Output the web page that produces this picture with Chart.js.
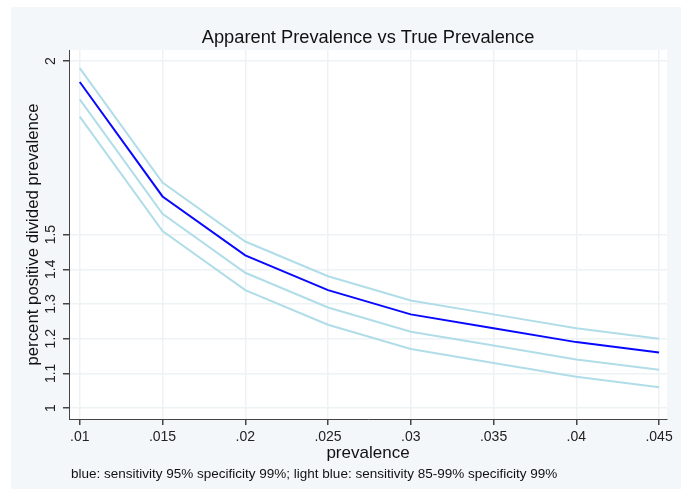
<!DOCTYPE html>
<html>
<head>
<meta charset="utf-8">
<script src="https://cdn.jsdelivr.net/npm/chart.js@4/dist/chart.umd.min.js"></script>
<style>
  html, body { margin: 0; padding: 0; background: #fff; }
  #wrap { width: 685px; height: 491px; }
</style>
</head>
<body>
<div id="wrap"><canvas id="chart" width="685" height="491"></canvas></div>
<script>
// values
const prevalence = [0.01, 0.015, 0.02, 0.025, 0.03, 0.035, 0.04, 0.045];
const blueSens95 = [1.94, 1.61, 1.44, 1.34, 1.27, 1.23, 1.19, 1.16];
const lightSens99 = [1.98, 1.65, 1.48, 1.38, 1.31, 1.27, 1.23, 1.20];
const lightSens90 = [1.89, 1.56, 1.39, 1.29, 1.22, 1.18, 1.14, 1.11];
const lightSens85 = [1.84, 1.51, 1.34, 1.24, 1.17, 1.13, 1.09, 1.06];
const xTicks = [0.01, 0.015, 0.02, 0.025, 0.03, 0.035, 0.04, 0.045];
const yTicks = [1, 1.1, 1.2, 1.3, 1.4, 1.5, 2];

const BLUE = '#0808ff';
const LIGHT = '#b0dde8';
const FONT = 'Arial, "Liberation Sans", sans-serif';

const pts = ys => prevalence.map((x, i) => ({ x: x, y: ys[i] }));
const fmt = v => String(v).replace(/^0/, '');

const lineSet = (label, ys, color) => ({
    label: label,
    data: pts(ys),
    borderColor: color,
    borderWidth: 2,
    pointRadius: 0,
    fill: false,
    tension: 0
});

// background panels and hand-placed texts
const decor = {
    id: 'decor',
    beforeDraw(chart) {
        const c = chart.ctx, a = chart.chartArea;
        c.save();
        c.fillStyle = '#f4f7f9';
        c.fillRect(11, 7, 670, 482);
        c.fillStyle = '#ffffff';
        c.fillRect(a.left, a.top, a.right - a.left, a.bottom - a.top);
        c.restore();
    },
    afterDraw(chart) {
        const c = chart.ctx, a = chart.chartArea;
        const ys = chart.scales.y;
        const mid = (a.left + a.right) / 2;
        c.save();
        c.fillStyle = '#111';
        c.textAlign = 'center';
        c.textBaseline = 'middle';
        c.font = '18.3px ' + FONT;
        c.fillText('Apparent Prevalence vs True Prevalence', mid, 38);
        c.font = '17px ' + FONT;
        c.fillText('prevalence', mid, 453);
        // y tick labels, rotated like the original
        c.font = '14px ' + FONT;
        c.fillStyle = '#222';
        yTicks.forEach(v => {
            c.save();
            c.translate(51, ys.getPixelForValue(v));
            c.rotate(-Math.PI / 2);
            c.fillText(fmt(v), 0, 0);
            c.restore();
        });
        c.fillStyle = '#111';
        c.font = '16.8px ' + FONT;
        c.save();
        c.translate(33, (a.top + a.bottom) / 2);
        c.rotate(-Math.PI / 2);
        c.fillText('percent positive divided prevalence', 0, 0);
        c.restore();
        c.textAlign = 'left';
        c.font = '13.5px ' + FONT;
        c.fillText('blue: sensitivity 95% specificity 99%; light blue: sensitivity 85-99% specificity 99%', 71, 474);
        c.restore();
    }
};

new Chart(document.getElementById('chart'), {
    type: 'line',
    data: {
        datasets: [
            lineSet('sens 99%', lightSens99, LIGHT),
            lineSet('sens 90%', lightSens90, LIGHT),
            lineSet('sens 85%', lightSens85, LIGHT),
            lineSet('sens 95%', blueSens95, BLUE)
        ]
    },
    options: {
        responsive: false,
        animation: false,
        devicePixelRatio: 1,
        layout: { padding: { top: 50, right: 18, left: 0, bottom: 0 } },
        plugins: { legend: { display: false }, tooltip: { enabled: false } },
        scales: {
            x: {
                type: 'linear',
                min: 0.00935,
                max: 0.04548,
                afterBuildTicks(s) { s.ticks = xTicks.map(v => ({ value: v })); },
                afterFit(s) { s.height = 72; },
                grid: { color: '#edf2f5', lineWidth: 1.5, tickColor: '#444', tickLength: 6, drawOnChartArea: true },
                border: { color: '#444', width: 1 },
                ticks: {
                    color: '#222',
                    padding: 4,
                    maxRotation: 0,
                    font: { family: FONT, size: 14 },
                    callback: v => fmt(v)
                }
            },
            y: {
                type: 'linear',
                min: 0.9683,
                max: 2.0323,
                afterBuildTicks(s) { s.ticks = yTicks.map(v => ({ value: v })); },
                afterFit(s) { s.width = 69; },
                grid: { color: '#edf2f5', lineWidth: 1.5, tickColor: '#444', tickLength: 6 },
                border: { color: '#444', width: 1 },
                ticks: { display: false }
            }
        }
    },
    plugins: [decor]
});
</script>
</body>
</html>
